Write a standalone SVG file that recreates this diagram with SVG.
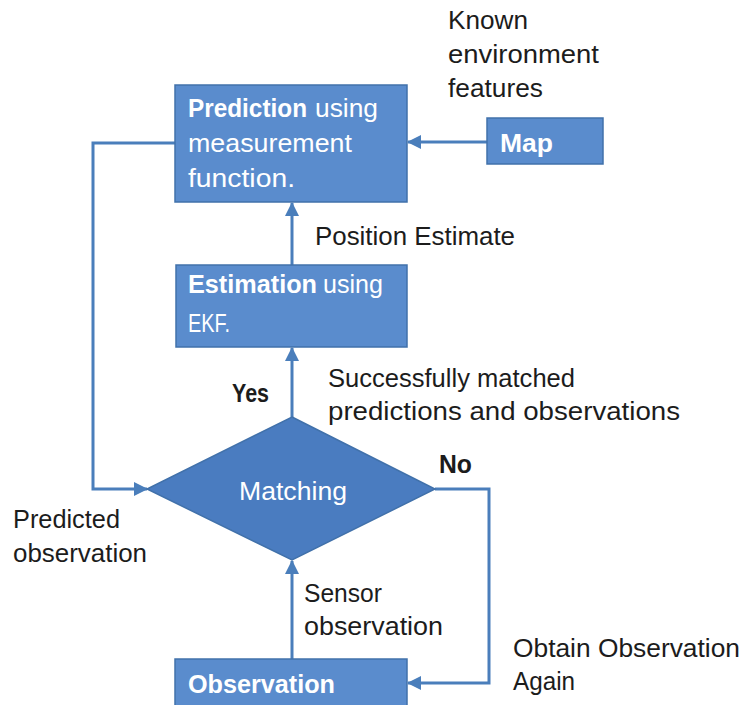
<svg xmlns="http://www.w3.org/2000/svg" width="743" height="705" viewBox="0 0 743 705">
  <defs>
    <marker id="arrow" viewBox="0 0 14 14" refX="13" refY="7" markerWidth="14" markerHeight="14" markerUnits="userSpaceOnUse" orient="auto">
      <path d="M0,0 L14,7 L0,14 z" fill="#4a7ebb"/>
    </marker>
    <style>
      .box { fill: #5a8ccd; stroke: #4171aa; stroke-width: 1.5; }
      .diamond { fill: #4a7cc0; stroke: #4171aa; stroke-width: 1.5; }
      .conn { fill: none; stroke: #4a7ebb; stroke-width: 3; marker-end: url(#arrow); }
      text { font-family: "Liberation Sans", Arial, sans-serif; font-size: 26px; }
      .in { fill: #ffffff; }
      .lbl { fill: #1c1c1c; }
      .b { font-weight: bold; }
    </style>
  </defs>

  <rect width="743" height="705" fill="#ffffff"/>

  <!-- connectors -->
  <g id="connectors">
    <path class="conn" d="M487,142 H408"/>
    <path class="conn" d="M292,265 V203"/>
    <path class="conn" d="M292,417 V348"/>
    <path class="conn" d="M292,659 V561"/>
    <path class="conn" d="M175,143 H93 V489 H147"/>
    <path class="conn" d="M435,489 H489 V683 H408"/>
  </g>

  <!-- nodes -->
  <g id="prediction">
    <rect class="box" x="175" y="85" width="232" height="117"/>
    <text class="in" y="117"><tspan class="b" x="188" textLength="119" lengthAdjust="spacingAndGlyphs">Prediction</tspan><tspan x="315" textLength="63" lengthAdjust="spacingAndGlyphs">using</tspan></text>
    <text class="in" x="188" y="152" textLength="164" lengthAdjust="spacingAndGlyphs">measurement</text>
    <text class="in" x="188" y="187" textLength="107" lengthAdjust="spacingAndGlyphs">function.</text>
  </g>

  <g id="map">
    <rect class="box" x="487" y="118" width="116" height="46"/>
    <text class="in b" x="500" y="152" textLength="53" lengthAdjust="spacingAndGlyphs">Map</text>
  </g>

  <g id="estimation">
    <rect class="box" x="176" y="265" width="231" height="82"/>
    <text class="in" y="293"><tspan class="b" x="188" textLength="129" lengthAdjust="spacingAndGlyphs">Estimation</tspan><tspan x="323" textLength="60" lengthAdjust="spacingAndGlyphs">using</tspan></text>
    <text class="in" x="188" y="332" textLength="42" lengthAdjust="spacingAndGlyphs">EKF.</text>
  </g>

  <g id="matching">
    <polygon class="diamond" points="292,417 435,489 292,560 147,489"/>
    <text class="in" x="239" y="500" textLength="108" lengthAdjust="spacingAndGlyphs">Matching</text>
  </g>

  <g id="observation">
    <rect class="box" x="175" y="659" width="232" height="60"/>
    <text class="in b" x="188" y="693" textLength="147" lengthAdjust="spacingAndGlyphs">Observation</text>
  </g>

  <!-- labels -->
  <g id="labels">
    <text class="lbl" x="448" y="29" textLength="80" lengthAdjust="spacingAndGlyphs">Known</text>
    <text class="lbl" x="448" y="63" textLength="151" lengthAdjust="spacingAndGlyphs">environment</text>
    <text class="lbl" x="448" y="97" textLength="95" lengthAdjust="spacingAndGlyphs">features</text>
    <text class="lbl" x="315" y="245" textLength="200" lengthAdjust="spacingAndGlyphs">Position Estimate</text>
    <text class="lbl b" x="232" y="402" textLength="37" lengthAdjust="spacingAndGlyphs">Yes</text>
    <text class="lbl" x="328" y="387" textLength="247" lengthAdjust="spacingAndGlyphs">Successfully matched</text>
    <text class="lbl" x="328" y="420" textLength="352" lengthAdjust="spacingAndGlyphs">predictions and observations</text>
    <text class="lbl b" x="439" y="473" textLength="33" lengthAdjust="spacingAndGlyphs">No</text>
    <text class="lbl" x="13" y="528" textLength="107" lengthAdjust="spacingAndGlyphs">Predicted</text>
    <text class="lbl" x="13" y="562" textLength="134" lengthAdjust="spacingAndGlyphs">observation</text>
    <text class="lbl" x="304" y="602" textLength="78" lengthAdjust="spacingAndGlyphs">Sensor</text>
    <text class="lbl" x="304" y="635" textLength="139" lengthAdjust="spacingAndGlyphs">observation</text>
    <text class="lbl" x="513" y="657" textLength="227" lengthAdjust="spacingAndGlyphs">Obtain Observation</text>
    <text class="lbl" x="513" y="690" textLength="62" lengthAdjust="spacingAndGlyphs">Again</text>
  </g>
</svg>
